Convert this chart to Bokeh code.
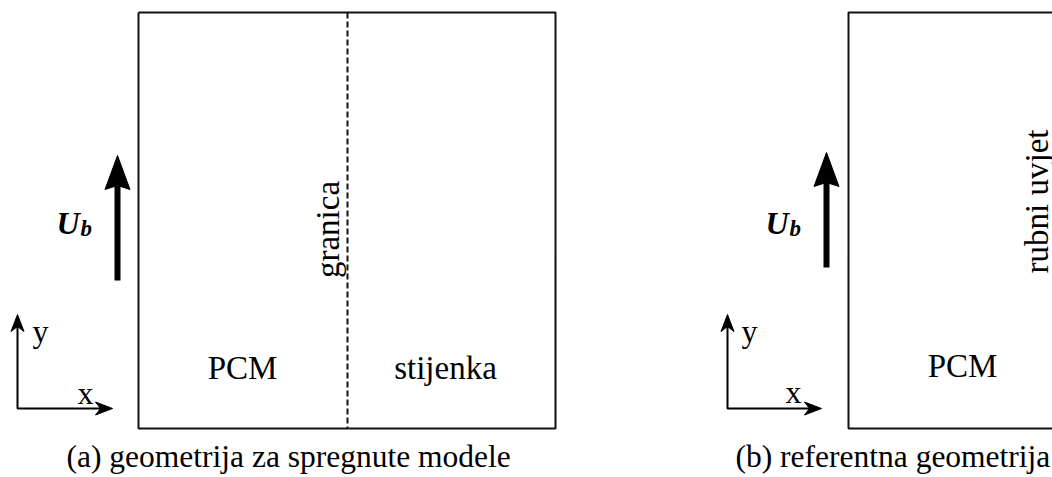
import math
from bokeh.plotting import figure
from bokeh.models import Range1d
from bokeh.core.properties import value
from bokeh.embed import file_html
from bokeh.resources import INLINE

FONT = value("Liberation Serif")

# ---- geometry (screen-pixel coordinates of the sketch) ----
box_a_x = [138, 555, 555, 138, 138]
box_a_y = [12, 12, 428, 428, 12]
interface_x = [347, 347]
interface_y = [12, 428]
box_b_x = [1266, 848, 848, 1266]
box_b_y = [12, 12, 428, 428]

# flow-velocity arrows (shaft bottom, head tip)
ub_x = [117, 826]
ub_y0 = [280, 267]
ub_tip = [155, 152]

# coordinate-system origins and tips
cs_x0 = [17, 727]
cs_y0 = [408, 408]
cs_ytip = [314, 314]
cs_xtip = [112, 821]

# labels (anchor positions; Bokeh draws the baseline ~0.25em below the anchor)
region_text = ["PCM", "stijenka", "PCM"]
region_x = [242, 445, 962]
region_y = [367, 367, 365]

axis_text = ["y", "x", "y", "x"]
axis_tx = [40, 85, 749, 793]
axis_ty = [330, 392, 330, 391]

rot_text = ["granica", "rubni uvjet"]
rot_x = [327, 1036]
rot_y = [229, 201]

ub_label_x = [56, 765]
ub_label_y = [222, 222]

caption_text = ["(a) geometrija za spregnute modele", "(b) referentna geometrija"]
caption_x = [66, 735]
caption_y = [456, 456]

W, H = 1052, 477
p = figure(width=W, height=H, x_range=Range1d(0, W), y_range=Range1d(H, 0),
           output_backend="svg", toolbar_location=None, min_border=0,
           x_axis_location=None, y_axis_location=None)
p.grid.visible = False
p.outline_line_color = None

# boxes
p.line(box_a_x, box_a_y, line_color="#111111", line_width=2)
p.line(box_b_x, box_b_y, line_color="#111111", line_width=2)
p.line(interface_x, interface_y, line_color="#111111", line_width=2, line_dash="6 3")

# U_b arrows
hl, hw = 34, 12.5
for x, y0, yt in zip(ub_x, ub_y0, ub_tip):
    p.line([x, x], [y0, yt + hl - 4], line_color="black", line_width=6)
    p.patch([x, x - hw, x, x + hw], [yt, yt + hl, yt + hl - 4, yt + hl],
            fill_color="black", line_color="black", line_width=1)

# coordinate systems
al, aw = 17, 6.5
for x0, y0, yt, xt in zip(cs_x0, cs_y0, cs_ytip, cs_xtip):
    p.line([x0, x0, xt - 10], [yt + 10, y0, y0], line_color="black", line_width=2)
    p.patch([x0, x0 - aw, x0, x0 + aw], [yt, yt + al, yt + al - 5, yt + al],
            fill_color="black", line_color="black", line_width=1)
    p.patch([xt, xt - al, xt - al + 5, xt - al], [y0, y0 - aw, y0, y0 + aw],
            fill_color="black", line_color="black", line_width=1)

# texts
p.text(region_x, region_y, text=region_text, text_font=FONT, text_font_size="33px",
       text_align="center", text_baseline="alphabetic", text_color="black")
p.text(axis_tx, axis_ty, text=axis_text, text_font=FONT, text_font_size="32px",
       text_align="center", text_baseline="alphabetic", text_color="black")
p.text(rot_x, rot_y, text=rot_text, text_font=FONT, text_font_size="33px",
       text_align="center", text_baseline="middle", angle=math.pi / 2, text_color="black")
p.text(ub_label_x, ub_label_y, text=["U", "U"], text_font=FONT, text_font_size="32px",
       text_font_style="bold italic", text_align="left", text_baseline="alphabetic", text_color="black")
p.text([x + 24 for x in ub_label_x], [y + 6 for y in ub_label_y], text=["b", "b"], text_font=FONT,
       text_font_size="23px", text_font_style="bold italic", text_align="left",
       text_baseline="alphabetic", text_color="black")
p.text(caption_x, caption_y, text=caption_text, text_font=FONT, text_font_size="31.5px",
       text_align="left", text_baseline="alphabetic", text_color="black")

open("out.html", "w").write(file_html(p, INLINE))
